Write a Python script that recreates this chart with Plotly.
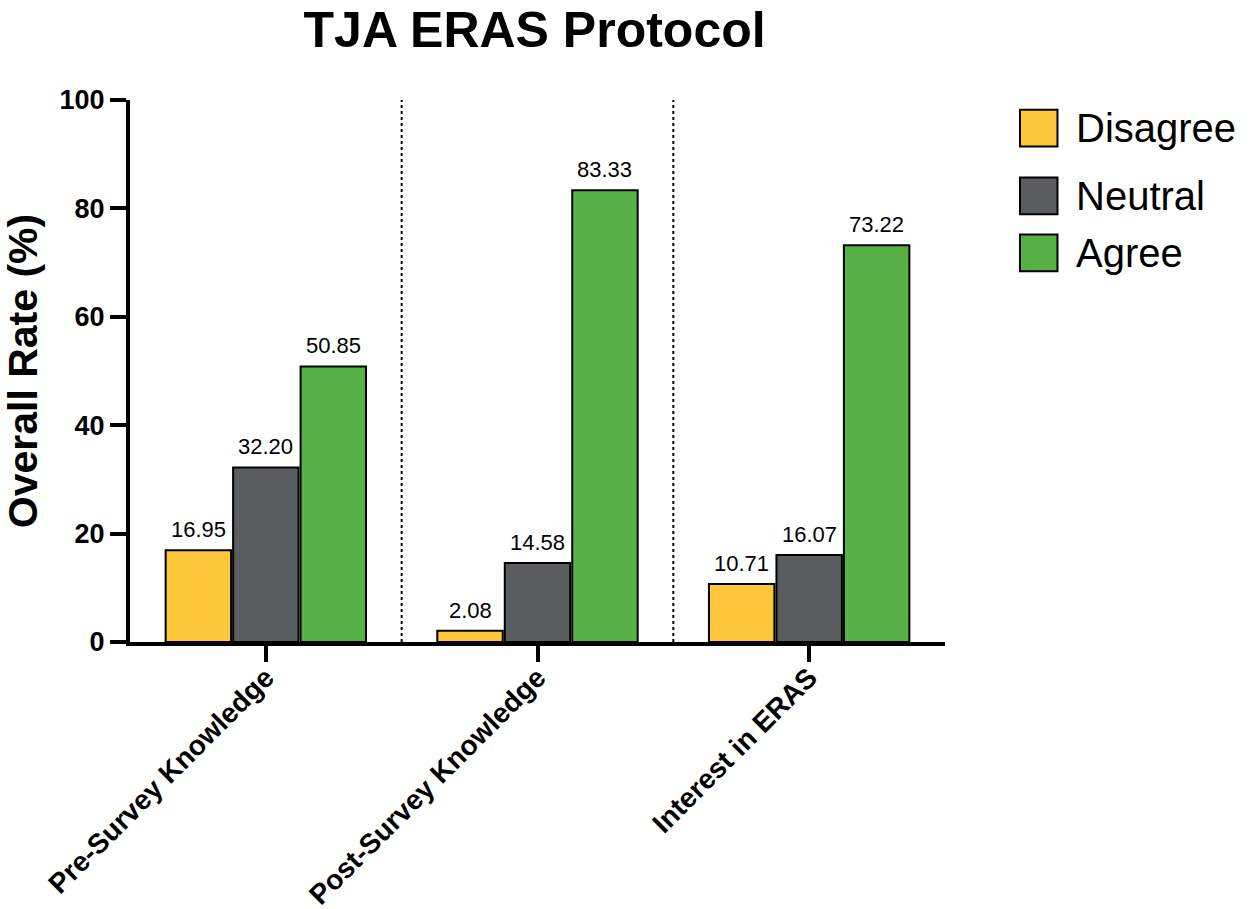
import plotly.graph_objects as go

# Survey results (percent of respondents)
categories = ["Pre-Survey Knowledge", "Post-Survey Knowledge", "Interest in ERAS"]
series_names = ["Disagree", "Neutral", "Agree"]
disagree = [16.95, 2.08, 10.71]
neutral = [32.20, 14.58, 16.07]
agree = [50.85, 83.33, 73.22]
colors = ["#FFC83A", "#595D60", "#58B146"]
y_ticks = [0, 20, 40, 60, 80, 100]

values = [disagree, neutral, agree]
x_pos = list(range(len(categories)))

BARGAP = 0.255
slot = (1 - BARGAP) / len(series_names)

fig = go.Figure()
for name, vals, col in zip(series_names, values, colors):
    fig.add_trace(go.Bar(
        x=x_pos, y=vals, name=name,
        marker=dict(color=col, line=dict(color="black", width=2)),
        showlegend=False,
    ))

# value labels above each bar
for j, vals in enumerate(values):
    for i, v in enumerate(vals):
        fig.add_annotation(
            x=i + (j - 1) * slot, y=v, text=f"{v:.2f}",
            showarrow=False, yanchor="bottom", yshift=6,
            font=dict(family="Liberation Sans, Arial", size=22, color="black"),
        )

# dotted separators between groups
for sep in [0.5, 1.5]:
    fig.add_shape(type="line", x0=sep, x1=sep, y0=0, y1=101.5,
                  xref="x", yref="y",
                  line=dict(color="black", width=2, dash="dot"))

# legend drawn as swatches with labels
leg_y = [0.948, 0.823, 0.718]
for name, col, yy in zip(series_names, colors, leg_y):
    fig.add_shape(type="rect", xref="paper", yref="paper",
                  x0=1.092, x1=1.138, y0=yy - 0.034, y1=yy + 0.034,
                  fillcolor=col, line=dict(color="black", width=2))
    fig.add_annotation(xref="paper", yref="paper", x=1.158, y=yy,
                       text=name, showarrow=False, xanchor="left",
                       yanchor="middle",
                       font=dict(family="Liberation Sans, Arial", size=40,
                                 color="black"))

fig.update_layout(
    width=1252, height=909,
    margin=dict(l=130, r=307, t=100, b=267),
    paper_bgcolor="white", plot_bgcolor="white",
    barmode="group", bargap=BARGAP, bargroupgap=0.03,
    title=dict(text="<b>TJA ERAS Protocol</b>", x=0.427, xanchor="center",
               y=0.967, yanchor="middle",
               font=dict(family="Liberation Sans, Arial", size=50,
                         color="black")),
    font=dict(family="Liberation Sans, Arial", color="black"),
)

fig.update_xaxes(
    range=[-0.5, 2.5], tickmode="array", tickvals=x_pos,
    ticktext=[f"<b>{c}</b>" for c in categories],
    tickangle=-45, tickfont=dict(size=28, color="black"),
    ticklabelstandoff=-12,
    showline=True, linecolor="black", linewidth=4,
    ticks="outside", ticklen=16, tickwidth=4, tickcolor="black",
    showgrid=False, zeroline=False, automargin=False,
)
fig.update_yaxes(
    range=[0, 100], tickmode="array", tickvals=y_ticks,
    ticktext=[f"<b>{t}</b>" for t in y_ticks],
    tickfont=dict(size=27, color="black"),
    showline=True, linecolor="black", linewidth=4,
    ticks="outside", ticklen=16, tickwidth=4, tickcolor="black",
    showgrid=False, zeroline=False, automargin=False,
    title=dict(text="<b>Overall Rate (%)</b>",
               font=dict(size=41, color="black"), standoff=20),
)

fig.write_html("out.html")
